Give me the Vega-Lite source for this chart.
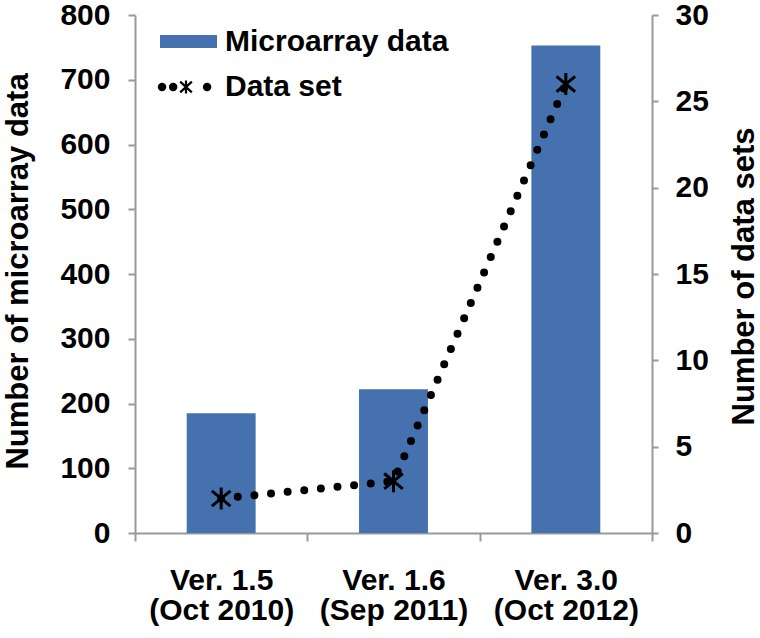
{
  "$schema": "https://vega.github.io/schema/vega-lite/v6.json",
  "width": 517,
  "height": 518,
  "autosize": {"type": "none"},
  "padding": {"left": 135, "top": 15, "right": 108, "bottom": 105},
  "background": "white",
  "config": {
    "view": {"stroke": null},
    "font": "Liberation Sans",
    "axis": {
      "labelFont": "Liberation Sans",
      "titleFont": "Liberation Sans",
      "labelFontWeight": "bold",
      "titleFontWeight": "bold",
      "labelFontSize": 30,
      "titleFontSize": 31,
      "labelColor": "black",
      "titleColor": "black",
      "domainColor": "#999999",
      "tickColor": "#999999",
      "domainWidth": 2,
      "tickWidth": 2,
      "grid": false,
      "labelLimit": 400
    },
    "legend": {
      "labelFont": "Liberation Sans",
      "labelFontWeight": "bold",
      "labelFontSize": 30,
      "labelColor": "black",
      "labelLimit": 400
    }
  },
  "data": {
    "values": [
      {"version": "Ver. 1.5|(Oct 2010)", "microarray": 185, "datasets": 2},
      {"version": "Ver. 1.6|(Sep 2011)", "microarray": 222, "datasets": 3},
      {"version": "Ver. 3.0|(Oct 2012)", "microarray": 753, "datasets": 26}
    ]
  },
  "encoding": {
    "x": {
      "field": "version",
      "type": "nominal",
      "sort": null,
      "scale": {"paddingInner": 0, "paddingOuter": 0},
      "axis": {
        "title": null,
        "labelAngle": 0,
        "labelExpr": "split(datum.label, '|')",
        "labelLineHeight": 30,
        "labelBaseline": "top",
        "tickSize": 8,
        "labelPadding": 24,
        "tickBand": "extent"
      }
    }
  },
  "layer": [
    {
      "mark": {"type": "bar", "color": "#4572AE", "width": {"band": 0.4}},
      "encoding": {
        "y": {
          "field": "microarray",
          "type": "quantitative",
          "scale": {"domain": [0, 800], "nice": false},
          "axis": {
            "values": [0, 100, 200, 300, 400, 500, 600, 700, 800],
            "tickSize": 7,
            "labelPadding": 18,
            "title": "Number of microarray data",
            "titleAngle": -90,
            "titleX": -108,
            "titleY": 256,
            "titleAlign": "center",
            "titleBaseline": "alphabetic"
          }
        },
        "fill": {
          "datum": "Microarray data",
          "type": "nominal",
          "scale": {"range": ["#4572AE"]},
          "legend": {
            "title": null,
            "orient": "none",
            "legendX": 25,
            "legendY": -2,
            "padding": 0,
            "symbolType": "M-1,-0.23L1,-0.23L1,0.23L-1,0.23Z",
            "symbolSize": 3249,
            "symbolStrokeWidth": 0,
            "labelOffset": 8
          }
        }
      }
    },
    {
      "mark": {
        "type": "line",
        "color": "black",
        "strokeWidth": 8,
        "strokeCap": "round",
        "strokeDash": [0, 16.7]
      },
      "encoding": {
        "y": {
          "field": "datasets",
          "type": "quantitative",
          "scale": {"domain": [0, 30], "nice": false},
          "axis": {
            "orient": "right",
            "values": [0, 5, 10, 15, 20, 25, 30],
            "tickSize": 6,
            "labelPadding": 17,
            "title": "Number of data sets",
            "titleAngle": -90,
            "titleX": 101,
            "titleY": 261,
            "titleAlign": "center",
            "titleBaseline": "alphabetic"
          }
        },
        "stroke": {
          "datum": "Data set",
          "type": "nominal",
          "scale": {"range": ["black"]},
          "legend": {
            "title": null,
            "orient": "none",
            "legendX": 20,
            "legendY": 42,
            "padding": 0,
            "symbolType": "M-0.915,0a0.11,0.11 0 1,0 0.22,0a0.11,0.11 0 1,0 -0.22,0ZM-0.525,0a0.11,0.11 0 1,0 0.22,0a0.11,0.11 0 1,0 -0.22,0ZM0.665,0a0.11,0.11 0 1,0 0.22,0a0.11,0.11 0 1,0 -0.22,0ZM0.035,-0.23L0.035,0.23M-0.17,-0.19L0.24,0.19M-0.17,0.19L0.24,-0.19",
            "symbolSize": 3249,
            "symbolStrokeWidth": 2,
            "labelOffset": 10,
            "symbolFillColor": "black",
            "encode": {"symbols": {"update": {"fill": {"value": "black"}, "stroke": {"value": "black"}, "strokeWidth": {"value": 2.2}}}}
          }
        }
      }
    },
    {
      "mark": {
        "type": "point",
        "shape": "M0,-1L0,1M-0.85,-0.7L0.85,0.7M-0.85,0.7L0.85,-0.7",
        "size": 480,
        "filled": false,
        "stroke": "black",
        "strokeWidth": 3,
        "opacity": 1
      },
      "encoding": {
        "y": {"field": "datasets", "type": "quantitative", "scale": {"domain": [0, 30], "nice": false}, "axis": null}
      }
    }
  ],
  "resolve": {"scale": {"y": "independent", "fill": "independent", "stroke": "independent"}}
}
